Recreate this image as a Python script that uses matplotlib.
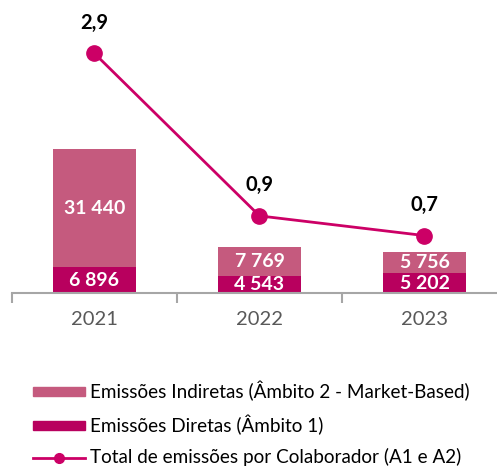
import matplotlib
matplotlib.use("Agg")
import matplotlib.pyplot as plt
from matplotlib.lines import Line2D
from matplotlib.patches import Patch

years = ["2021", "2022", "2023"]
diretas = [6896, 4543, 5202]
indiretas = [31440, 7769, 5756]
por_colaborador = [2.92, 0.94, 0.70]

c_ind = "#C55A7E"
c_dir = "#B8005E"
c_line = "#CC0066"

plt.rcParams["font.family"] = ["Lato", "DejaVu Sans"]

fig = plt.figure(figsize=(4.97, 4.66), dpi=100)
W, H = 497, 466
ax = fig.add_axes([12 / W, 173 / H, 495 / W, 283 / H])
x = range(len(years))

ax.bar(x, diretas, width=0.5, color=c_dir, zorder=2)
ax.bar(x, indiretas, width=0.5, bottom=diretas, color=c_ind, zorder=2)
ax.set_xlim(-0.5, 2.5)
ax.set_ylim(0, 75300)

for i in x:
    ax.text(i, diretas[i] / 2, f"{diretas[i]:,}".replace(",", " "), ha="center", va="center",
            color="white", fontsize=14, fontweight="bold", zorder=3)
    ax.text(i, diretas[i] + indiretas[i] / 2, f"{indiretas[i]:,}".replace(",", " "), ha="center",
            va="center", color="white", fontsize=14, fontweight="bold", zorder=3)

for s in ["top", "right", "left"]:
    ax.spines[s].set_visible(False)
ax.spines["bottom"].set_color("#A6A6A6")
ax.spines["bottom"].set_linewidth(1.5)
ax.set_yticks([])
ax.set_xticks(list(x))
ax.set_xticklabels(years, fontsize=14.5, color="#595959")
ax.tick_params(axis="x", which="major", length=0, pad=13)
ax.set_xticks([-0.5, 0.5, 1.5, 2.5], minor=True)
ax.tick_params(axis="x", which="minor", length=7, width=1.5, color="#A6A6A6")

ax2 = ax.twinx()
ax2.set_ylim(0, 3.45)
ax2.plot(list(x), por_colaborador, color=c_line, lw=2, marker="o", ms=11, zorder=4)
for i in x:
    ax2.annotate(f"{por_colaborador[i]:.1f}".replace(".", ","), (i, por_colaborador[i]),
                 xytext=(0, 22), textcoords="offset points", ha="center", va="center",
                 fontsize=14.5, fontweight="bold", color="black")
ax2.axis("off")

handles = [Patch(color=c_ind), Patch(color=c_dir),
           Line2D([], [], color=c_line, lw=2, marker="o", ms=7)]
labels = ["Emissões Indiretas (Âmbito 2 - Market-Based)", "Emissões Diretas (Âmbito 1)",
          "Total de emissões por Colaborador (A1 e A2)"]
fig.legend(handles, labels, loc="upper left", bbox_to_anchor=(33 / W, 1 - 381 / H),
           frameon=False, fontsize=13.6, handlelength=2.75, handleheight=0.35,
           labelspacing=0.7, handletextpad=0.25, borderaxespad=0, borderpad=0)

fig.savefig("out.png", dpi=100)
